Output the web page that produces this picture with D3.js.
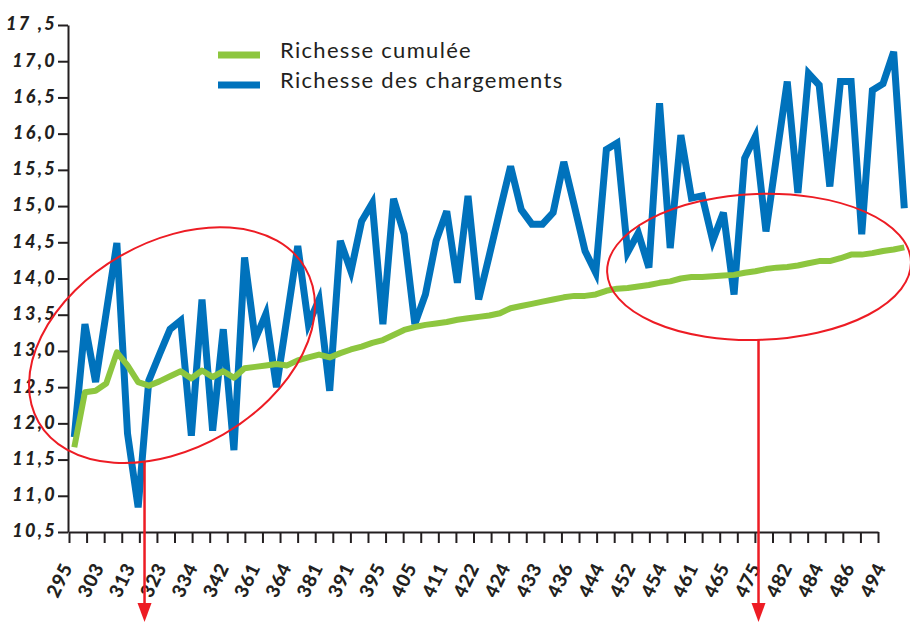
<!DOCTYPE html>
<html>
<head>
<meta charset="utf-8">
<script src="https://cdn.jsdelivr.net/npm/d3@7"></script>
<style>
  html, body { margin: 0; padding: 0; background: #ffffff; }
  svg { display: block; }
</style>
</head>
<body>
<svg id="chart" width="910" height="624"></svg>
<script>
// Load numbers shown under the horizontal axis
const loadLabels = ["295","303","313","323","334","342","361","364","381","391","395","405","411",
  "422","424","433","436","444","452","454","461","465","475","482","484","486","494"];

// Richness of each load
const richesseChargements = [
  11.81, 13.37, 12.57, 13.53, 14.49, 11.86, 10.84, 12.59, 12.95, 13.30,
  13.42, 11.83, 13.71, 11.90, 13.30, 11.63, 14.29, 13.16, 13.51, 12.50,
  13.47, 14.45, 13.37, 13.71, 12.45, 14.52, 14.10, 14.79, 15.04, 13.37,
  15.10, 14.61, 13.37, 13.78, 14.52, 14.93, 13.94, 15.14, 13.71, 14.32,
  14.94, 15.55, 14.95, 14.75, 14.75, 14.91, 15.61, 15.00, 14.38, 14.08,
  15.78, 15.87, 14.36, 14.63, 14.15, 16.42, 14.42, 15.98, 15.11, 15.14,
  14.52, 14.91, 13.78, 15.66, 15.96, 14.65, 15.69, 16.72, 15.18, 16.83,
  16.67, 15.27, 16.72, 16.72, 14.61, 16.60, 16.69, 17.13, 14.97
];

// Cumulated richness
const richesseCumulee = [
  11.67, 12.43, 12.45, 12.55, 12.98, 12.80, 12.57, 12.52, 12.58, 12.65,
  12.72, 12.62, 12.73, 12.64, 12.72, 12.63, 12.76, 12.78, 12.80, 12.82,
  12.80, 12.87, 12.91, 12.95, 12.91, 12.97, 13.02, 13.06, 13.11, 13.15,
  13.22, 13.29, 13.33, 13.36, 13.38, 13.40, 13.43, 13.45, 13.47, 13.49,
  13.52, 13.59, 13.62, 13.65, 13.68, 13.71, 13.74, 13.76, 13.76, 13.78,
  13.83, 13.86, 13.87, 13.89, 13.91, 13.94, 13.96, 14.00, 14.02, 14.02,
  14.03, 14.04, 14.05, 14.08, 14.10, 14.13, 14.15, 14.16, 14.18, 14.21,
  14.24, 14.24, 14.28, 14.33, 14.33, 14.35, 14.38, 14.40, 14.43
];

const yTickValues = [10.5, 11, 11.5, 12, 12.5, 13, 13.5, 14, 14.5, 15, 15.5, 16, 16.5, 17, 17.5];
const yTickLabels = ["10,5","11,0","11,5","12,0","12,5","13,0","13,5","14,0","14,5","15,0",
  "15,5","16,0","16,5","17,0","17 ,5"];

const seriesNames = ["Richesse cumulée", "Richesse des chargements"];
const seriesColors = ["#8DC63F", "#0072BC"];

// Highlighted regions: centre in data units (load index, richness)
const highlightCentres = [[9.18, 13.08], [64.35, 14.16]];
const highlightArrowIndex = [6.6, 64.3];

const ink = "#231F20";
const red = "#ED1C24";

const svg = d3.select("#chart");

const y = d3.scaleLinear().domain([10.5, 17.5]).range([532, 25]);
const x = d3.scaleLinear().domain([0, richesseChargements.length - 1]).range([74.3, 904.3]);
const tickScale = d3.scaleLinear().domain([0, 46]).range([69, 878]);
const labelScale = d3.scalePoint().domain(loadLabels).range([73.3, 886.7]);

// Vertical axis
const yAxis = svg.append("g")
  .attr("transform", "translate(68,0)")
  .call(d3.axisLeft(y)
    .tickValues(yTickValues)
    .tickFormat((d, i) => yTickLabels[i])
    .tickSize(10)
    .tickSizeOuter(0)
    .tickPadding(1));
yAxis.select(".domain").attr("stroke", ink).attr("stroke-width", 2);
yAxis.selectAll(".tick line").attr("stroke", ink).attr("stroke-width", 2);
yAxis.selectAll(".tick text")
  .attr("fill", ink)
  .attr("dy", "0.27em")
  .style("font-family", "Lato, 'Open Sans', sans-serif")
  .style("font-weight", "900")
  .style("font-style", "italic")
  .style("font-size", "18px")
  .style("letter-spacing", "2.3px");

// Horizontal axis with its tick marks
const xAxis = svg.append("g")
  .attr("transform", "translate(0,532)")
  .call(d3.axisBottom(tickScale)
    .tickValues(d3.range(47))
    .tickFormat("")
    .tickSize(11)
    .tickSizeOuter(0));
xAxis.select(".domain").attr("stroke", ink).attr("stroke-width", 2);
xAxis.selectAll(".tick line").attr("stroke", ink).attr("stroke-width", 2);

// Rotated load labels
svg.append("g")
  .selectAll("text")
  .data(loadLabels)
  .join("text")
  .attr("transform", d => `translate(${labelScale(d)},567) rotate(-64)`)
  .attr("text-anchor", "end")
  .attr("fill", ink)
  .style("font-family", "Lato, 'Open Sans', sans-serif")
  .style("font-weight", "900")
  .style("font-size", "19px")
  .style("letter-spacing", "0.8px")
  .text(d => d);

// Series lines
const line = d3.line().x((d, i) => x(i)).y(d => y(d));

svg.append("path")
  .datum(richesseChargements)
  .attr("fill", "none")
  .attr("stroke", seriesColors[1])
  .attr("stroke-width", 7)
  .attr("stroke-linejoin", "miter")
  .attr("d", line);

svg.append("path")
  .datum(richesseCumulee)
  .attr("fill", "none")
  .attr("stroke", seriesColors[0])
  .attr("stroke-width", 6)
  .attr("stroke-linejoin", "round")
  .attr("d", line);

// Legend
const legend = svg.append("g");
seriesNames.forEach((name, i) => {
  const cy = 55 + i * 30;
  legend.append("rect")
    .attr("x", 218).attr("y", cy - 3.5)
    .attr("width", 42).attr("height", 7)
    .attr("fill", seriesColors[i]);
  legend.append("text")
    .attr("x", 280).attr("y", cy + 2.5)
    .attr("fill", ink)
    .style("font-family", "Lato, 'Open Sans', sans-serif")
    .style("font-size", "22px")
    .style("letter-spacing", "1.3px")
    .text(name);
});

// Highlight ellipses with downward arrows
const ellipses = [
  { rx: 154, ry: 103, angle: -30 },
  { rx: 152, ry: 73, angle: -2 }
];

function lowerCrossing(cx, cy, a, b, angleDeg, X) {
  const t = angleDeg * Math.PI / 180, c = Math.cos(t), s = Math.sin(t);
  const dx = X - cx;
  const A = (s * s) / (a * a) + (c * c) / (b * b);
  const B = 2 * dx * (c * s / (a * a) - s * c / (b * b));
  const C = dx * dx * ((c * c) / (a * a) + (s * s) / (b * b)) - 1;
  const disc = Math.max(0, B * B - 4 * A * C);
  return cy + (-B + Math.sqrt(disc)) / (2 * A);
}

const annot = svg.append("g");
ellipses.forEach((e, i) => {
  const cx = x(highlightCentres[i][0]);
  const cy = y(highlightCentres[i][1]);
  annot.append("ellipse")
    .attr("cx", 0).attr("cy", 0)
    .attr("rx", e.rx).attr("ry", e.ry)
    .attr("transform", `translate(${cx},${cy}) rotate(${e.angle})`)
    .attr("fill", "none")
    .attr("stroke", red)
    .attr("stroke-width", 2);

  const ax = x(highlightArrowIndex[i]);
  const y0 = lowerCrossing(cx, cy, e.rx, e.ry, e.angle, ax);
  annot.append("line")
    .attr("x1", ax).attr("x2", ax)
    .attr("y1", y0).attr("y2", 606)
    .attr("stroke", red)
    .attr("stroke-width", 2.5);
  annot.append("path")
    .attr("d", `M${ax - 7},603 L${ax + 7},603 L${ax},622 Z`)
    .attr("fill", red);
});
</script>
</body>
</html>
